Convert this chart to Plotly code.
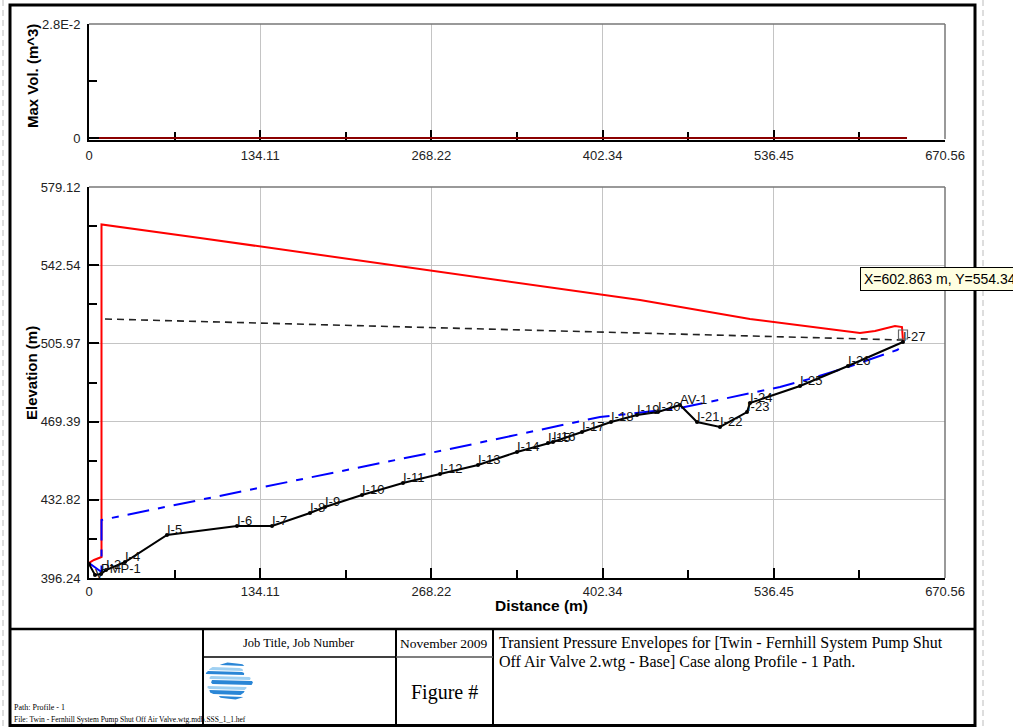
import math
import plotly.graph_objects as go

W, H = 1013, 727

# ---------------- data ----------------
x_tickvals = [0.0, 134.112, 268.224, 402.336, 536.448, 670.56]
x_ticktext = ["0", "134.11", "268.22", "402.34", "536.45", "670.56"]
x_minor = [67.056, 201.168, 335.28, 469.392, 603.504]
elev_tickvals = [396.24, 432.816, 469.392, 505.968, 542.544, 579.12]
elev_ticktext = ["396.24", "432.82", "469.39", "505.97", "542.54", "579.12"]
elev_minor = [414.528, 451.104, 487.68, 524.256, 560.832]
vol_tickvals = [0.0, 0.028]
vol_ticktext = ["0", "2.8E-2"]
vol_minor = [0.014]

# max air volume along profile (m^3)
vol_dist = [0.0, 640.8]
vol_vals = [0.0, 0.0]

# pipe profile nodes
node_labels = ["", "V", "PMP-1", "I-2", "I-4", "I-5", "I-6", "I-7", "I-8", "I-9", "I-10",
               "I-11", "I-12", "I-13", "I-14", "I-15", "I-16", "I-17", "I-18", "I-19", "I-20",
               "AV-1", "I-21", "I-22", "I-23", "I-24", "I-25", "I-26", "I-27"]
node_dist = [0.0, 4.70, 9.40, 13.32, 28.20, 61.10, 115.94, 143.35, 173.12, 184.87, 213.86,
             245.97, 274.96, 304.73, 335.28, 359.56, 363.48, 386.20, 408.91, 429.28, 445.73,
             462.97, 476.29, 494.30, 515.45, 517.80, 556.97, 594.57, 637.66]
node_elev = [402.79, 397.64, 398.11, 399.98, 403.72, 416.35, 420.56, 420.56, 426.64, 429.45, 435.06,
             440.67, 444.88, 449.09, 455.17, 459.38, 459.85, 464.53, 469.21, 472.48, 473.88,
             477.16, 469.21, 466.87, 473.88, 478.09, 486.04, 495.40, 506.62]

# maximum transient head envelope
max_dist = [0.0, 3.92, 9.79, 9.79, 86.95, 243.63, 431.63, 517.80, 603.97, 615.72, 631.39, 636.87, 637.66]
max_head = [403.26, 404.66, 406.06, 561.58, 555.27, 542.17, 526.27, 517.38, 510.83, 511.77, 514.11, 513.64, 507.09]

# minimum transient head envelope
min_dist = [0.0, 5.48, 9.79, 9.79, 290.20, 400.30, 462.97, 541.30, 567.15, 594.57, 632.96, 637.66]
min_head = [403.26, 400.92, 399.05, 423.37, 457.51, 471.54, 475.75, 485.58, 489.79, 494.93, 502.88, 504.75]

# initial (steady state) head
init_dist = [12.53, 637.66]
init_head = [517.38, 507.56]

# ---------------- helpers ----------------
def px(x):
    return x / W

def py(y):
    return 1 - y / H

XD = [px(89), px(945)]

fig = go.Figure()

fig.add_trace(go.Scatter(x=vol_dist, y=vol_vals, mode="lines", xaxis="x", yaxis="y",
                         line=dict(color="#8b0000", width=2), showlegend=False, hoverinfo="skip"))

fig.add_trace(go.Scatter(x=max_dist, y=max_head, mode="lines", xaxis="x2", yaxis="y2",
                         line=dict(color="#ff0000", width=2), showlegend=False))
fig.add_trace(go.Scatter(x=min_dist, y=min_head, mode="lines", xaxis="x2", yaxis="y2",
                         line=dict(color="#0000ff", width=2, dash="22px,9px,7px,9px"), showlegend=False))
fig.add_trace(go.Scatter(x=init_dist, y=init_head, mode="lines", xaxis="x2", yaxis="y2",
                         line=dict(color="#222222", width=1.6, dash="7px,5px"), showlegend=False))

fig.add_trace(go.Scatter(x=node_dist, y=node_elev, mode="lines+markers", xaxis="x2", yaxis="y2",
                         line=dict(color="black", width=2),
                         marker=dict(color="black", size=4), showlegend=False, cliponaxis=False))
# node labels, nudged slightly above their nodes
label_y = [e + (0.0 if lab == "V" else 2.2) for e, lab in zip(node_elev, node_labels)]
fig.add_trace(go.Scatter(x=node_dist, y=label_y, mode="text", xaxis="x2", yaxis="y2",
                         text=node_labels, textposition="middle right",
                         textfont=dict(family="Liberation Sans, Arial", size=13, color="#111111"),
                         showlegend=False, cliponaxis=False, hoverinfo="skip"))
fig.add_trace(go.Scatter(x=[node_dist[-1]], y=[node_elev[-1] + 3.5], mode="markers", xaxis="x2", yaxis="y2",
                         marker=dict(symbol="square-open", size=9, color="#666666", line=dict(width=1.2)),
                         showlegend=False))

tickfont = dict(family="Liberation Sans, Arial", size=13, color="#222222")
common_x = dict(range=[0, 670.56], tickmode="array", tickvals=x_tickvals, ticktext=x_ticktext,
                ticks="inside", ticklen=10, tickwidth=1.5, tickcolor="black",
                showline=True, linecolor="black", linewidth=2, showgrid=True, gridcolor="#c4c4c4",
                gridwidth=1, zeroline=False, tickfont=tickfont, domain=XD,
                minor=dict(tickmode="array", tickvals=x_minor, ticks="inside", ticklen=8,
                           tickcolor="black", tickwidth=1.5, showgrid=False))

fig.update_layout(
    width=W, height=H, autosize=False,
    margin=dict(l=0, r=0, t=0, b=0, pad=0, autoexpand=False),
    paper_bgcolor="white", plot_bgcolor="white",
    xaxis=dict(common_x, anchor="y", layer="below traces", ticklabelstandoff=3, linewidth=1.5),
    yaxis=dict(range=[-0.0004, 0.028], domain=[py(139.6), py(24)], anchor="x", tickmode="array",
               tickvals=vol_tickvals, ticktext=vol_ticktext, ticks="inside", ticklen=10, tickwidth=1.5,
               tickcolor="black", showline=True, linecolor="black", linewidth=2, showgrid=False,
               zeroline=False, tickfont=tickfont, ticklabelstandoff=4,
               minor=dict(tickmode="array", tickvals=vol_minor, ticks="inside", ticklen=8,
                          tickcolor="black", tickwidth=1.5, showgrid=False)),
    xaxis2=dict(common_x, anchor="y2"),
    yaxis2=dict(range=[396.24, 579.12], domain=[py(578), py(187)], anchor="x2", tickmode="array",
                tickvals=elev_tickvals, ticktext=elev_ticktext, ticks="inside", ticklen=10, tickwidth=1.5,
                tickcolor="black", showline=True, linecolor="black", linewidth=2, showgrid=True,
                gridcolor="#c4c4c4", gridwidth=1, zeroline=False, tickfont=tickfont, ticklabelstandoff=4,
                minor=dict(tickmode="array", tickvals=elev_minor, ticks="inside", ticklen=8,
                           tickcolor="black", tickwidth=1.5, showgrid=False)),
)

shapes = []
def line(x0, y0, x1, y1, color="black", width=2, dash=None):
    d = dict(type="line", xref="paper", yref="paper", x0=px(x0), y0=py(y0), x1=px(x1), y1=py(y1),
             line=dict(color=color, width=width))
    if dash:
        d["line"]["dash"] = dash
    shapes.append(d)

# plot frames (top / right edges)
line(89, 24, 945, 24, "#777777", 1.5)
line(945, 24, 945, 139, "#777777", 1.5)
line(89, 187, 945, 187, "#777777", 1.5)
line(945, 187, 945, 578, "#777777", 1.5)

# page frame
shapes.append(dict(type="rect", xref="paper", yref="paper", x0=px(10), y0=py(725.5), x1=px(975), y1=py(5),
                   line=dict(color="black", width=3)))
line(3, 0, 3, 727, "#bbbbbb", 1, "6px,4px")
line(983, 0, 983, 727, "#bbbbbb", 1, "6px,4px")
# title block
line(10, 629, 975, 629, "black", 2.5)
line(203, 629, 203, 726, "black", 2)
line(396, 629, 396, 726, "black", 2)
line(493, 629, 493, 726, "black", 2)
line(203, 657, 396, 657, "black", 1.5)
line(396, 657, 493, 657, "#555555", 1.5)

# logo: striped globe
cx, cy, rx, ry = 229, 681, 20, 19
bands = [(662.5, 666, "#2a86d6", 3), (667, 671, "#9fd0f2", -3), (671, 675, "#2a86d6", -4),
         (676, 680, "#9fd0f2", 1), (680, 685, "#2a86d6", 3), (686, 690, "#9fd0f2", -2),
         (690, 695, "#2a86d6", -2), (696, 699.5, "#2a86d6", 2)]
for y0, y1, col, off in bands:
    def hw(y):
        t = max(0.0, 1 - ((y - cy) / ry) ** 2)
        return rx * math.sqrt(t)
    ym = (y0 + y1) / 2
    pts = [(cx - hw(y0) + off, y0), (cx + hw(y0) + off, y0 + 1), (cx + hw(ym) + off + 1, ym),
           (cx + hw(y1) + off, y1), (cx - hw(y1) + off, y1 - 1), (cx - hw(ym) + off - 1, ym)]
    path = "M " + " L ".join(f"{px(a):.5f},{py(b):.5f}" for a, b in pts) + " Z"
    shapes.append(dict(type="path", xref="paper", yref="paper", path=path,
                       fillcolor=col, line=dict(width=0)))

fig.update_layout(shapes=shapes)

ann = []
def text(x, y, s, size, family="Liberation Serif, Times New Roman", xanchor="center", bold=False,
         angle=0, **kw):
    d = dict(x=px(x), y=py(y), xref="paper", yref="paper", text=(f"<b>{s}</b>" if bold else s),
             showarrow=False, xanchor=xanchor, yanchor="middle", textangle=angle,
             font=dict(family=family, size=size, color="black"))
    d.update(kw)
    ann.append(d)

text(32, 76, "Max Vol. (m^3)", 15, family="Liberation Sans, Arial", bold=True, angle=-90)
text(32, 373, "Elevation (m)", 15, family="Liberation Sans, Arial", bold=True, angle=-90)
text(541, 605, "Distance (m)", 15.5, family="Liberation Sans, Arial", bold=True)

text(299, 643, "Job Title, Job Number", 12.5)
text(443.5, 643, "November 2009", 13.5)
text(444.5, 692, "Figure #", 20)
text(497, 643, "Transient Pressure Envelopes for [Twin - Fernhill System Pump Shut", 16, xanchor="left")
text(497, 662, "Off Air Valve 2.wtg - Base] Case along Profile - 1 Path.", 16, xanchor="left")
text(12, 707, "Path: Profile - 1", 8, xanchor="left")
text(12, 719, "File: Twin - Fernhill System Pump Shut Off Air Valve.wtg.mdb.SSS_1_1.hef", 7.5, xanchor="left")

text(860, 279, "X=602.863 m, Y=554.341", 14, family="Liberation Sans, Arial", xanchor="left",
     bgcolor="#ffffe1", bordercolor="black", borderwidth=1, borderpad=3)

fig.update_layout(annotations=ann)

fig.write_html("out.html", config={"displayModeBar": False},
               post_script="document.body.style.margin='0';document.body.style.overflow='hidden';"
                           "document.documentElement.style.overflow='hidden';")
